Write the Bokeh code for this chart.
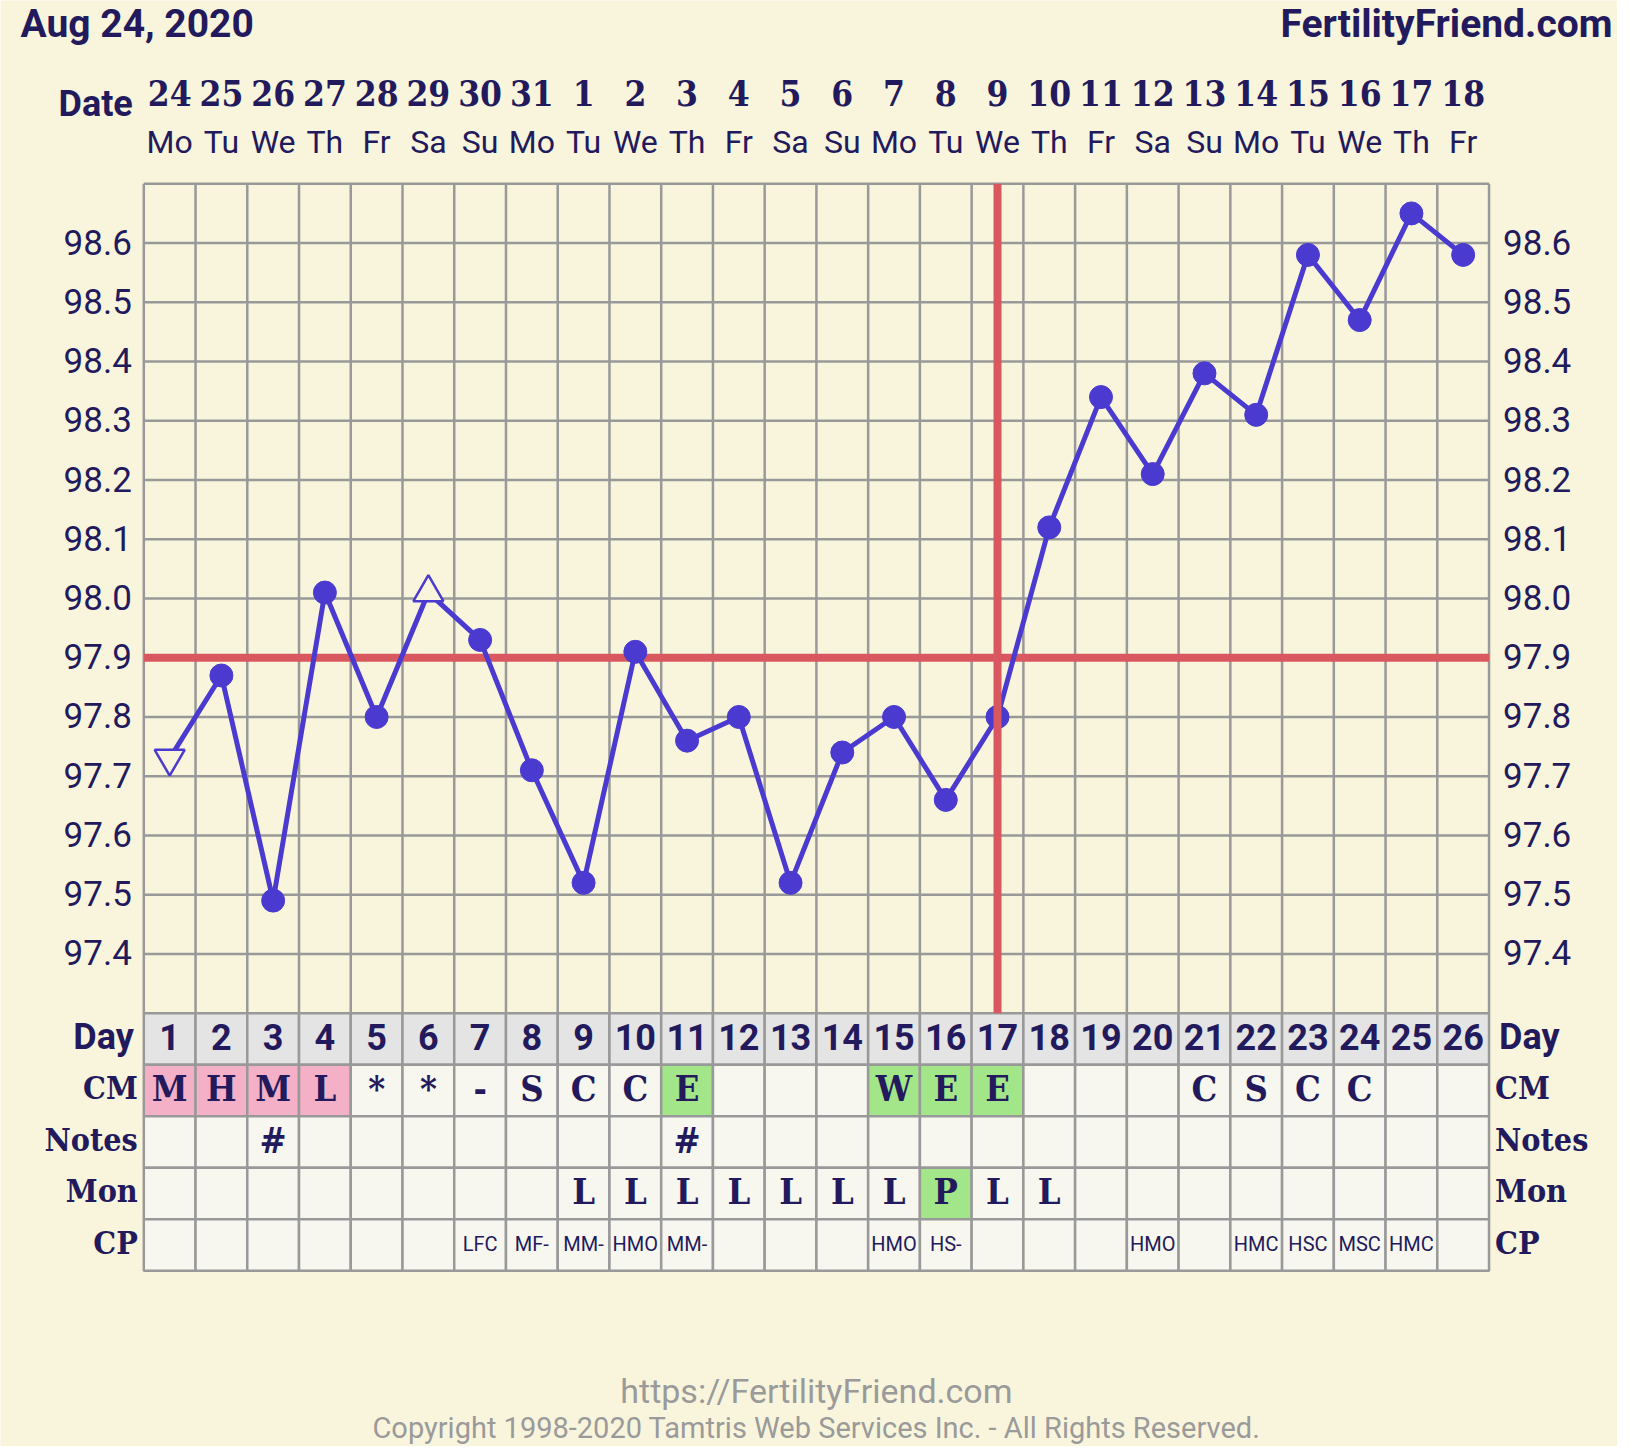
from bokeh.plotting import figure
from bokeh.models import Range1d, ColumnDataSource
from bokeh.core.properties import value
from bokeh.embed import file_html
from bokeh.resources import INLINE

# ---------------- data ----------------
CYCLE_DAYS = list(range(1, 27))
DATE_LABELS = ["24", "25", "26", "27", "28", "29", "30", "31", "1", "2", "3", "4", "5",
               "6", "7", "8", "9", "10", "11", "12", "13", "14", "15", "16", "17", "18"]
WEEKDAY_LABELS = ["Mo", "Tu", "We", "Th", "Fr", "Sa", "Su", "Mo", "Tu", "We", "Th", "Fr", "Sa",
                  "Su", "Mo", "Tu", "We", "Th", "Fr", "Sa", "Su", "Mo", "Tu", "We", "Th", "Fr"]
TEMPS = [97.73, 97.87, 97.49, 98.01, 97.80, 98.01, 97.93, 97.71, 97.52, 97.91,
         97.76, 97.80, 97.52, 97.74, 97.80, 97.66, 97.80, 98.12, 98.34, 98.21,
         98.38, 98.31, 98.58, 98.47, 98.65, 98.58]
TEMP_KIND = ["open_down", "closed", "closed", "closed", "closed", "open_up", "closed",
             "closed", "closed", "closed", "closed", "closed", "closed", "closed",
             "closed", "closed", "closed", "closed", "closed", "closed", "closed",
             "closed", "closed", "closed", "closed", "closed"]
COVERLINE = 97.9
OVULATION_DAY = 17
TEMP_TICKS = [97.4, 97.5, 97.6, 97.7, 97.8, 97.9, 98.0, 98.1, 98.2, 98.3, 98.4, 98.5, 98.6]
TEMP_GRID = [97.3, 97.4, 97.5, 97.6, 97.7, 97.8, 97.9, 98.0, 98.1, 98.2, 98.3, 98.4, 98.5, 98.6, 98.7]

CM = ["M", "H", "M", "L", "*", "*", "-", "S", "C", "C", "E", "", "", "",
      "W", "E", "E", "", "", "", "C", "S", "C", "C", "", ""]
CM_FLAG = ["period", "period", "period", "period", "", "", "", "", "", "", "fertile", "", "", "",
           "fertile", "fertile", "fertile", "", "", "", "", "", "", "", "", ""]
NOTES = ["", "", "#", "", "", "", "", "", "", "", "#", "", "", "",
         "", "", "", "", "", "", "", "", "", "", "", ""]
MON = ["", "", "", "", "", "", "", "", "L", "L", "L", "L", "L", "L",
       "L", "P", "L", "L", "", "", "", "", "", "", "", ""]
MON_FLAG = ["", "", "", "", "", "", "", "", "", "", "", "", "", "",
            "", "fertile", "", "", "", "", "", "", "", "", "", ""]
CP = ["", "", "", "", "", "", "LFC", "MF-", "MM-", "HMO", "MM-", "", "", "",
      "HMO", "HS-", "", "", "", "HMO", "", "HMC", "HSC", "MSC", "HMC", ""]
ROW_NAMES = ["Day", "CM", "Notes", "Mon", "CP"]

HEADER_LEFT = "Aug 24, 2020"
HEADER_RIGHT = "FertilityFriend.com"
DATE_TITLE = "Date"
FOOTER_URL = "https://FertilityFriend.com"
FOOTER_COPY = "Copyright 1998-2020 Tamtris Web Services Inc. - All Rights Reserved."

# ---------------- style / layout ----------------
BG = "#f9f5dc"
CELL_BG = "#f7f7ef"
DAY_BG = "#e4e4e4"
PINK = "#f3b0c6"
GREEN = "#a2e689"
RED = "#d9585f"
PURPLE = "#4a3acf"
GRID_C = "#999999"
INK = "#221a5c"
FOOT = "#9a9a9a"
SANS = "Roboto"
SLAB = "DejaVu Serif Condensed"

FIG_W, FIG_H = 1617, 1446
GRID_LEFT = 143.3      # px of the left chart border
COL_W = 51.74          # px per day column
GRID_TOP = 183.3       # px of the top chart border
DEG_PX = 592.4         # px per degree
ROW_PX = 51.5          # px per table row

N = len(CYCLE_DAYS)
n_rows = len(ROW_NAMES)
t_lo, t_hi = TEMP_GRID[0], TEMP_GRID[-1]
TABLE_TOP = GRID_TOP + (t_hi - t_lo) * DEG_PX
TABLE_BOTTOM = TABLE_TOP + n_rows * ROW_PX

x_rng = Range1d(0.5 - GRID_LEFT / COL_W, 0.5 + (FIG_W - GRID_LEFT) / COL_W)
y_rng = Range1d(t_hi - (FIG_H - GRID_TOP) / DEG_PX, t_hi + GRID_TOP / DEG_PX)

p = figure(width=FIG_W, height=FIG_H, x_range=x_rng, y_range=y_rng,
           x_axis_location=None, y_axis_location=None,
           toolbar_location=None, output_backend="svg", min_border=0,
           background_fill_color=BG, border_fill_color=BG, outline_line_color=None)
p.xgrid.visible = False
p.ygrid.visible = False
p.extra_y_ranges = {
    "tbl": Range1d(-(FIG_H - TABLE_BOTTOM) / ROW_PX, TABLE_BOTTOM / ROW_PX),
    "px": Range1d(FIG_H, 0),
}
p.extra_x_ranges = {"px": Range1d(0, FIG_W)}

# ---------------- chart grid ----------------
vlines = [d - 0.5 for d in CYCLE_DAYS] + [N + 0.5]
p.segment(x0=vlines, y0=[t_lo] * len(vlines), x1=vlines, y1=[t_hi] * len(vlines),
          line_color=GRID_C, line_width=2.5)
p.segment(x0=[0.5] * len(TEMP_GRID), y0=TEMP_GRID, x1=[N + 0.5] * len(TEMP_GRID), y1=TEMP_GRID,
          line_color=GRID_C, line_width=2.5)

# temperature tick labels, both sides
tick_txt = ["%.1f" % t for t in TEMP_TICKS]
p.text(x=[0.5] * len(TEMP_TICKS), y=TEMP_TICKS, text=tick_txt, x_offset=-12, y_offset=-1,
       text_font=value(SANS), text_font_size="35px", text_color=INK,
       text_align="right", text_baseline="middle")
p.text(x=[N + 0.5] * len(TEMP_TICKS), y=TEMP_TICKS, text=tick_txt, x_offset=14, y_offset=-1,
       text_font=value(SANS), text_font_size="35px", text_color=INK,
       text_align="left", text_baseline="middle")

# date header rows (vertical centres in px)
p.text(x=CYCLE_DAYS, y=[92] * N, text=DATE_LABELS, y_range_name="px",
       text_font=value(SLAB), text_font_style="bold", text_font_size="35px", text_color=INK,
       text_align="center", text_baseline="middle")
p.text(x=CYCLE_DAYS, y=[141.5] * N, text=WEEKDAY_LABELS, y_range_name="px",
       text_font=value(SANS), text_font_size="32px", text_color=INK,
       text_align="center", text_baseline="middle")
p.text(x=[0.5], y=[103], text=[DATE_TITLE], x_offset=-11, y_range_name="px",
       text_font=value(SANS), text_font_style="bold", text_font_size="36px", text_color=INK,
       text_align="right", text_baseline="middle")

# ---------------- table ----------------
row_y = {name: n_rows - 0.5 - i for i, name in enumerate(ROW_NAMES)}
flag_color = {"period": PINK, "fertile": GREEN, "": CELL_BG}
cx, cy, cfill = [], [], []
for name in ROW_NAMES:
    for i, d in enumerate(CYCLE_DAYS):
        cx.append(d)
        cy.append(row_y[name])
        if name == "Day":
            cfill.append(DAY_BG)
        elif name == "CM":
            cfill.append(flag_color[CM_FLAG[i]])
        elif name == "Mon":
            cfill.append(flag_color[MON_FLAG[i]])
        else:
            cfill.append(CELL_BG)
p.rect(x="x", y="y", width=1, height=1, y_range_name="tbl",
       source=ColumnDataSource(dict(x=cx, y=cy, c=cfill)),
       fill_color="c", line_color=GRID_C, line_width=2.5)

p.text(x=CYCLE_DAYS, y=[row_y["Day"]] * N, text=[str(d) for d in CYCLE_DAYS], y_range_name="tbl",
       y_offset=-2, text_font=value(SANS), text_font_style="bold", text_font_size="36px",
       text_align="center", text_baseline="middle", text_color=INK)
for name, vals in (("CM", CM), ("Notes", NOTES), ("Mon", MON)):
    p.text(x=CYCLE_DAYS, y=[row_y[name]] * N, text=vals, y_range_name="tbl", y_offset=-2,
           text_font=value(SLAB), text_font_style="bold", text_font_size="36px",
           text_align="center", text_baseline="middle", text_color=INK)
p.text(x=CYCLE_DAYS, y=[row_y["CP"]] * N, text=CP, y_range_name="tbl", y_offset=-1,
       text_font=value(SANS), text_font_size="20px",
       text_align="center", text_baseline="middle", text_color=INK)

# row labels on both sides
lab_font = [SANS if n == "Day" else SLAB for n in ROW_NAMES]
lab_size = ["36px" if n == "Day" else "32px" for n in ROW_NAMES]
for xpos, sign, al in ((0.5, -1, "right"), (N + 0.5, 1, "left")):
    offs = [sign * (10 if n == "Day" else 6) for n in ROW_NAMES]
    src = ColumnDataSource(dict(x=[xpos] * n_rows, y=[row_y[n] for n in ROW_NAMES],
                                t=ROW_NAMES, f=lab_font, s=lab_size, o=offs))
    p.text(x="x", y="y", text="t", source=src, y_range_name="tbl", x_offset="o", y_offset=-2,
           text_font="f", text_font_size="s", text_font_style="bold", text_color=INK,
           text_align=al, text_baseline="middle")

# ---------------- temperature curve ----------------
p.segment(x0=[0.5], y0=[COVERLINE], x1=[N + 0.5], y1=[COVERLINE], line_color=RED, line_width=8)
p.line(CYCLE_DAYS, TEMPS, line_color=PURPLE, line_width=5)
closed = [i for i, k in enumerate(TEMP_KIND) if k == "closed"]
p.scatter([CYCLE_DAYS[i] for i in closed], [TEMPS[i] for i in closed], size=23,
          fill_color=PURPLE, line_color=PURPLE)
for kind, marker in (("open_down", "inverted_triangle"), ("open_up", "triangle")):
    idx = [i for i, k in enumerate(TEMP_KIND) if k == kind]
    p.scatter([CYCLE_DAYS[i] for i in idx], [TEMPS[i] for i in idx], marker=marker,
              size=30, fill_color=BG, line_color=PURPLE, line_width=2.5)
p.segment(x0=[OVULATION_DAY], y0=[t_lo], x1=[OVULATION_DAY], y1=[t_hi],
          line_color=RED, line_width=8, line_cap="butt")

# ---------------- header / footer (vertical centres in px) ----------------
p.text(x=[20], y=[23.5], text=[HEADER_LEFT], x_range_name="px", y_range_name="px",
       text_font=value(SANS), text_font_style="bold", text_font_size="39px",
       text_color=INK, text_align="left", text_baseline="middle")
p.text(x=[1612], y=[23.5], text=[HEADER_RIGHT], x_range_name="px", y_range_name="px",
       text_font=value(SANS), text_font_style="bold", text_font_size="39px",
       text_color=INK, text_align="right", text_baseline="middle")
p.text(x=[(N + 1) / 2], y=[1390], text=[FOOTER_URL], y_range_name="px",
       text_font=value(SANS), text_font_size="34px", text_color=FOOT,
       text_align="center", text_baseline="middle")
p.text(x=[(N + 1) / 2], y=[1427.5], text=[FOOTER_COPY], y_range_name="px",
       text_font=value(SANS), text_font_size="29px", text_color=FOOT,
       text_align="center", text_baseline="middle")

open("out.html", "w").write(file_html(p, INLINE))
